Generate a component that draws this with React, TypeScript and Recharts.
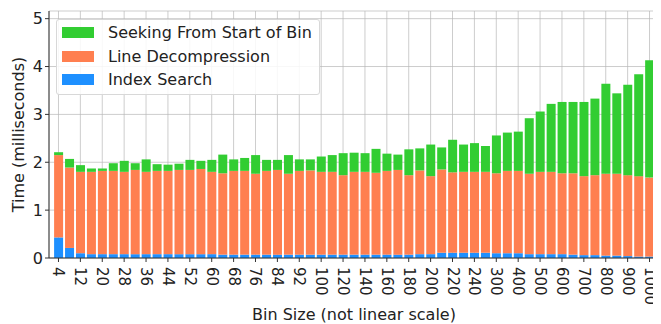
import { BarChart, Bar, XAxis, YAxis, CartesianGrid, Label } from "recharts";

const BINS = [
  4, 8, 12, 16, 20, 24, 28, 32, 36, 40, 44, 48, 52, 56, 60, 64, 68, 72, 76, 80, 84, 88, 92, 96, 100,
  110, 120, 130, 140, 150, 160, 170, 180, 190, 200, 210, 220, 230, 240, 250,
  300, 350, 400, 450, 500, 550, 600, 650, 700, 750, 800, 850, 900, 950, 1000,
];

const INDEX_SEARCH = [
  0.43, 0.21, 0.1, 0.08, 0.08, 0.08, 0.08, 0.08, 0.08, 0.08, 0.08, 0.08, 0.08, 0.08, 0.08,
  0.07, 0.07, 0.07, 0.07, 0.07, 0.07, 0.07, 0.07, 0.07, 0.07, 0.07, 0.07, 0.07, 0.07, 0.07,
  0.07, 0.07, 0.07, 0.08, 0.08, 0.11, 0.11, 0.11, 0.11, 0.11, 0.1, 0.1, 0.1, 0.08, 0.08,
  0.08, 0.08, 0.07, 0.06, 0.06, 0.05, 0.05, 0.04, 0.03, 0.03,
];

const LINE_DECOMP = [
  1.72, 1.68, 1.7, 1.72, 1.74, 1.74, 1.72, 1.76, 1.72, 1.74, 1.74, 1.76, 1.76, 1.78, 1.72,
  1.7, 1.75, 1.75, 1.69, 1.75, 1.77, 1.69, 1.75, 1.76, 1.73, 1.73, 1.66, 1.73, 1.73, 1.71,
  1.75, 1.77, 1.66, 1.75, 1.63, 1.74, 1.68, 1.69, 1.69, 1.69, 1.67, 1.72, 1.72, 1.68, 1.72,
  1.72, 1.69, 1.7, 1.65, 1.67, 1.71, 1.71, 1.69, 1.68, 1.65,
];

const SEEKING = [
  0.06, 0.18, 0.14, 0.07, 0.05, 0.16, 0.23, 0.14, 0.26, 0.14, 0.13, 0.13, 0.21, 0.17, 0.25,
  0.39, 0.24, 0.27, 0.39, 0.23, 0.21, 0.39, 0.24, 0.23, 0.32, 0.35, 0.46, 0.4, 0.39, 0.5,
  0.36, 0.32, 0.54, 0.46, 0.66, 0.46, 0.68, 0.57, 0.6, 0.54, 0.79, 0.8, 0.82, 1.16, 1.26,
  1.42, 1.49, 1.49, 1.55, 1.6, 1.88, 1.68, 1.89, 2.13, 2.45,
];

const Y_TICKS = [0, 1, 2, 3, 4, 5];

const SERIES = [
  { key: "seek", name: "Seeking From Start of Bin", color: "#32cd32" },
  { key: "decomp", name: "Line Decompression", color: "#ff7f50" },
  { key: "index", name: "Index Search", color: "#1e90ff" },
];

const data = BINS.map((bin, i) => ({
  bin: String(bin),
  index: INDEX_SEARCH[i],
  decomp: LINE_DECOMP[i],
  seek: SEEKING[i],
}));

const FONT = "'DejaVu Sans', sans-serif";

function LegendBox() {
  return (
    <div
      style={{
        position: "absolute",
        left: 48,
        top: 11,
        border: "1px solid #d8d8d8",
        borderRadius: 3,
        background: "rgba(255,255,255,0.85)",
        padding: "1px 7px 2px 5px",
        fontFamily: FONT,
        fontSize: 16,
        color: "#222",
      }}
    >
      {SERIES.map((s) => (
        <div key={s.key} style={{ display: "flex", alignItems: "center", height: 23.5 }}>
          <span style={{ width: 32, height: 11, background: s.color, marginRight: 14 }} />
          <span>{s.name}</span>
        </div>
      ))}
    </div>
  );
}

function YLabel(props: any) {
  const vb = props.viewBox || {};
  const cy = vb.y + vb.height / 2;
  return (
    <text
      x={10}
      y={cy}
      transform={`rotate(-90, 10, ${cy})`}
      textAnchor="middle"
      dominantBaseline="central"
      style={{ fontFamily: FONT, fontSize: 16, fill: "#222" }}
    >
      Time (milliseconds)
    </text>
  );
}

function XTick(props: any) {
  const { x, y, payload } = props;
  return (
    <text
      x={x}
      y={y + 3}
      transform={`rotate(90, ${x}, ${y + 3})`}
      textAnchor="start"
      dominantBaseline="central"
      style={{ fontFamily: FONT, fontSize: 15, fill: "#222" }}
    >
      {payload.value}
    </text>
  );
}

export default function App() {
  return (
    <div style={{ position: "relative", width: 653, height: 316 }}>
      <BarChart
        width={653}
        height={316}
        data={data}
        margin={{ top: 3, right: 2, bottom: 0, left: 0 }}
        barCategoryGap="10%"
        style={{ overflow: "visible" }}
      >
        {SERIES.slice()
          .reverse()
          .map((s) => (
            <Bar
              key={s.key}
              dataKey={s.key}
              name={s.name}
              stackId="t"
              fill={s.color}
              isAnimationActive={false}
            />
          ))}
        <CartesianGrid stroke="#b8b8b8" strokeOpacity={0.7} />
        <XAxis
          dataKey="bin"
          interval={1}
          height={66}
          padding={{ left: 4, right: 4 }}
          stroke="#333"
          tickLine={{ stroke: "#333" }}
          tickSize={4}
          tick={<XTick />}
        >
          <Label
            value="Bin Size (not linear scale)"
            position="insideBottom"
            offset={4}
            style={{ fontFamily: FONT, fontSize: 16, fill: "#222" }}
          />
        </XAxis>
        <XAxis xAxisId="top" orientation="top" dataKey="bin" height={0} tick={false} tickLine={false} stroke="#555" />
        <YAxis
          width={41}
          domain={[0, 5.16]}
          ticks={Y_TICKS}
          stroke="#333"
          tickSize={4}
          tick={{ fontFamily: FONT, fontSize: 16, fill: "#222" }}
        >
          <Label content={<YLabel />} />
        </YAxis>
        <YAxis yAxisId="right" orientation="right" width={0} tick={false} tickLine={false} stroke="#555" />
      </BarChart>
      <LegendBox />
    </div>
  );
}
